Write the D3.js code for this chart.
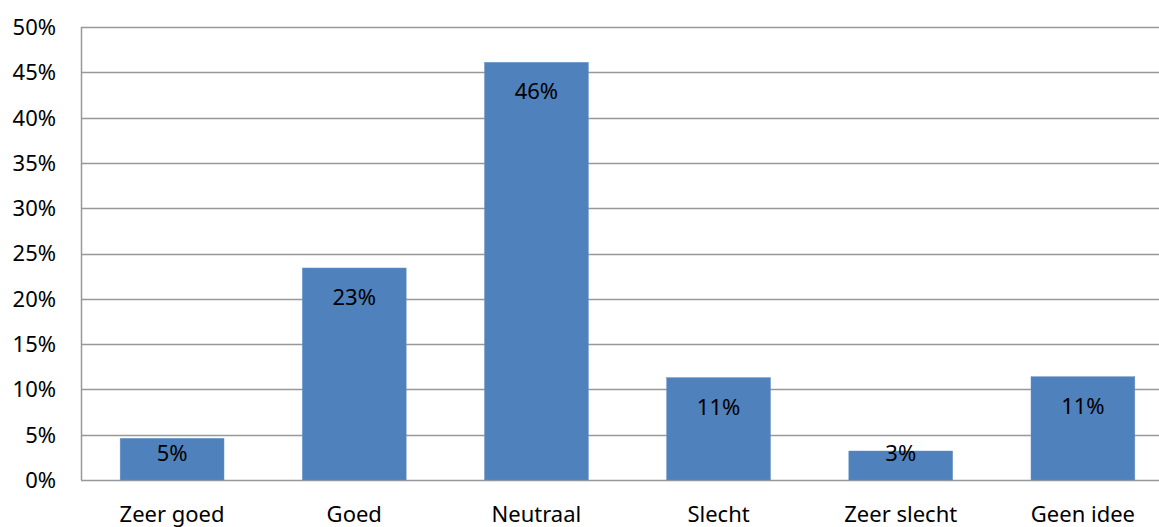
<!DOCTYPE html>
<html><head><meta charset="utf-8">
<script src="https://cdn.jsdelivr.net/npm/d3@7"></script>
<style>body{margin:0;background:#fff;}svg{display:block;font-family:"Noto Sans","Open Sans",sans-serif;}</style>
</head><body>
<script>
const categories = ["Zeer goed","Goed","Neutraal","Slecht","Zeer slecht","Geen idee"];
const values = [4.6, 23.4, 46.1, 11.3, 3.2, 11.4];
const labels = ["5%","23%","46%","11%","3%","11%"];
const yTicks = [0,5,10,15,20,25,30,35,40,45,50];

const W = 1159, H = 527;
const m = {left: 81, top: 27, bottom: 47};
const plotW = 1093;
const svg = d3.select("body").append("svg").attr("width", W).attr("height", H);
const x = d3.scaleBand().domain(categories).range([m.left, m.left + plotW]).paddingInner(0.43).paddingOuter(0.215);
const y = d3.scaleLinear().domain([0, 50]).range([H - m.bottom, m.top]);

// gridlines
svg.append("g").selectAll("line").data(yTicks).join("line")
  .attr("x1", m.left).attr("x2", m.left + plotW)
  .attr("y1", d => Math.round(y(d)) + 0.5).attr("y2", d => Math.round(y(d)) + 0.5)
  .attr("stroke", "#989898").attr("stroke-width", 1.5);
// y axis line
svg.append("line").attr("x1", m.left + 0.5).attr("x2", m.left + 0.5)
  .attr("y1", y(50)).attr("y2", y(0)).attr("stroke", "#989898").attr("stroke-width", 1.5);

// y tick labels
svg.append("g").selectAll("text").data(yTicks).join("text")
  .attr("x", 56).attr("y", d => y(d)).attr("dy", "0.36em")
  .attr("text-anchor", "end").attr("font-size", 22).attr("fill", "#000")
  .text(d => d + "%");

// bars
svg.append("g").selectAll("rect").data(values).join("rect")
  .attr("x", (d, i) => x(categories[i])).attr("width", x.bandwidth())
  .attr("y", d => y(d)).attr("height", d => y(0) - y(d))
  .attr("fill", "#4f81bd").attr("stroke", "#6a93c8").attr("stroke-width", 0.5);

// data labels
svg.append("g").selectAll("text").data(values).join("text")
  .attr("x", (d, i) => x(categories[i]) + x.bandwidth() / 2)
  .attr("y", d => Math.min(y(d) + 37, y(0) - 19))
  .attr("text-anchor", "middle").attr("font-size", 22).attr("fill", "#000")
  .text((d, i) => labels[i]);

// x labels
svg.append("g").selectAll("text").data(categories).join("text")
  .attr("x", d => x(d) + x.bandwidth() / 2).attr("y", 522)
  .attr("text-anchor", "middle").attr("font-size", 22).attr("fill", "#000")
  .text(d => d);
</script>
</body></html>
